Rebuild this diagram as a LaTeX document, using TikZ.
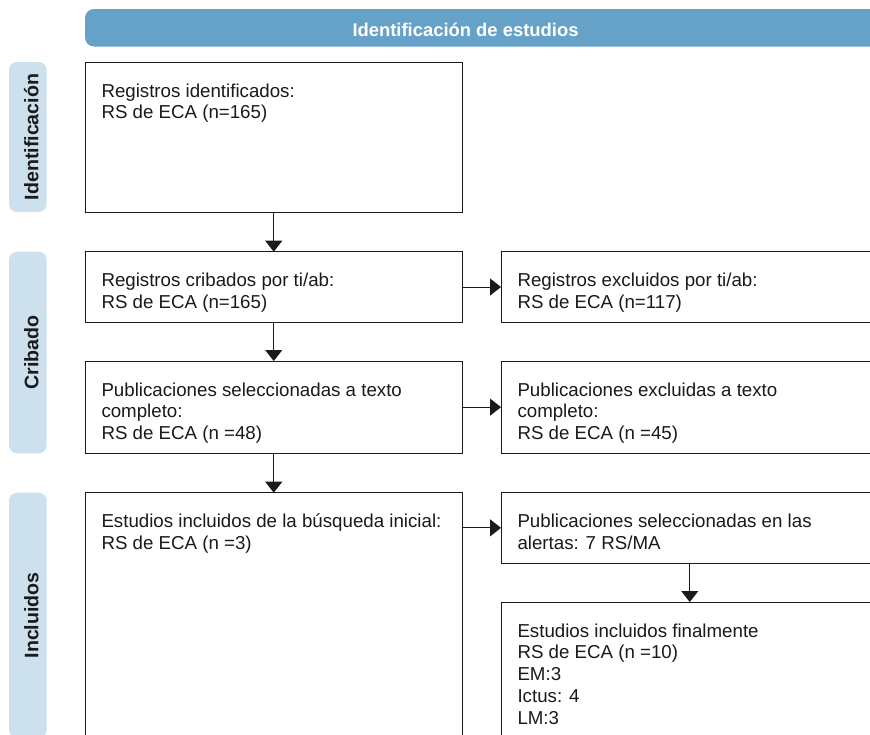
\documentclass[tikz,border=0pt]{standalone}
\usepackage{fontspec}
\setmainfont{Liberation Sans}
\usetikzlibrary{arrows.meta}

\definecolor{headblue}{RGB}{102,161,200}
\definecolor{sideblue}{RGB}{205,224,238}
\definecolor{ink}{RGB}{26,26,26}

\begin{document}
\begin{tikzpicture}[x=1pt, y=-1pt,
  stagebox/.style={draw=ink, line width=1pt, fill=white, rectangle,
    inner sep=0pt, outer sep=0pt, anchor=north west, minimum width=377.5pt},
  boxtext/.style={anchor=north west, inner sep=0pt, align=left, text=ink,
    font=\fontsize{18.7}{21.7}\selectfont},
  sidelabel/.style={fill=sideblue, rounded corners=8pt},
  sidetext/.style={rotate=90, anchor=base, inner sep=0pt, text=ink,
    font=\fontsize{19.6}{22}\selectfont\bfseries},
  flow/.style={draw=ink, line width=1pt,
    -{Triangle[length=11pt, width=17pt]}}
]
\clip (0,0) rectangle (870,734);

% column header
\path[fill=headblue, rounded corners=9pt] (85,9) rectangle (900,46.5);
\node[anchor=base, inner sep=0pt, text=white,
  font=\fontsize{18.4}{22}\selectfont\bfseries] (headt) at (465.5,36.7)
  {Identificación de estudios};

% stage labels on the left
\path[sidelabel] (9,62) rectangle (46.7,212);
\node[sidetext] (lid) at (38.3,137) {Identificación};
\path[sidelabel] (9,251.7) rectangle (46.7,453.3);
\node[sidetext] (lcr) at (38.3,352.5) {Cribado};
\path[sidelabel] (9,492.7) rectangle (46.7,738);
\node[sidetext] (lin) at (38.3,615.3) {Incluidos};

% boxes
\node[stagebox, minimum height=150pt] (b1) at (85,62) {};
\node[stagebox, minimum height=70.6pt] (b2) at (85,251.7) {};
\node[stagebox, minimum height=70.6pt] (b2r) at (501,251.7) {};
\node[stagebox, minimum height=92.3pt] (b3) at (85,361) {};
\node[stagebox, minimum height=92.3pt] (b3r) at (501,361) {};
\node[stagebox, minimum height=260pt] (b4) at (85,492.7) {};
\node[stagebox, minimum height=70.3pt] (b4r) at (501,492.7) {};
\node[stagebox, minimum height=150pt] (b5) at (501,602) {};

% box contents
\node[boxtext] (t1) at ([xshift=16.3pt, yshift=-19.8pt]b1.north west)
  {\strut Registros identificados:\\RS de ECA (n=165)};
\node[boxtext] (t2) at ([xshift=16.3pt, yshift=-19.8pt]b2.north west)
  {\strut Registros cribados por ti/ab:\\RS de ECA (n=165)};
\node[boxtext] (t2r) at ([xshift=16.3pt, yshift=-19.8pt]b2r.north west)
  {\strut Registros excluidos por ti/ab:\\RS de ECA (n=117)};
\node[boxtext] (t3) at ([xshift=16.3pt, yshift=-19.8pt]b3.north west)
  {\strut Publicaciones seleccionadas a texto\\completo:\\RS de ECA (n =48)};
\node[boxtext] (t3r) at ([xshift=16.3pt, yshift=-19.8pt]b3r.north west)
  {\strut Publicaciones excluidas a texto\\completo:\\RS de ECA (n =45)};
\node[boxtext] (t4) at ([xshift=16.3pt, yshift=-19.8pt]b4.north west)
  {\strut Estudios incluidos de la búsqueda inicial:\\RS de ECA (n =3)};
\node[boxtext] (t4r) at ([xshift=16.3pt, yshift=-19.8pt]b4r.north west)
  {\strut Publicaciones seleccionadas en las\\alertas: 7 RS/MA};
\node[boxtext] (t5) at ([xshift=16.3pt, yshift=-19.8pt]b5.north west)
  {\strut Estudios incluidos finalmente\\RS de ECA (n =10)\\EM:3\\Ictus: 4\\LM:3};

% connectors
\draw[flow] (b1.south) -- (b2.north);
\draw[flow] (b2.south) -- (b3.north);
\draw[flow] (b3.south) -- (b4.north);
\draw[flow] (b2.east) -- (b2r.west);
\draw[flow] (b3.east) -- (b3r.west);
\draw[flow] (b4r.west -| b4.east) -- (b4r.west);
\draw[flow] (b4r.south) -- (b5.north);
\end{tikzpicture}
\end{document}
